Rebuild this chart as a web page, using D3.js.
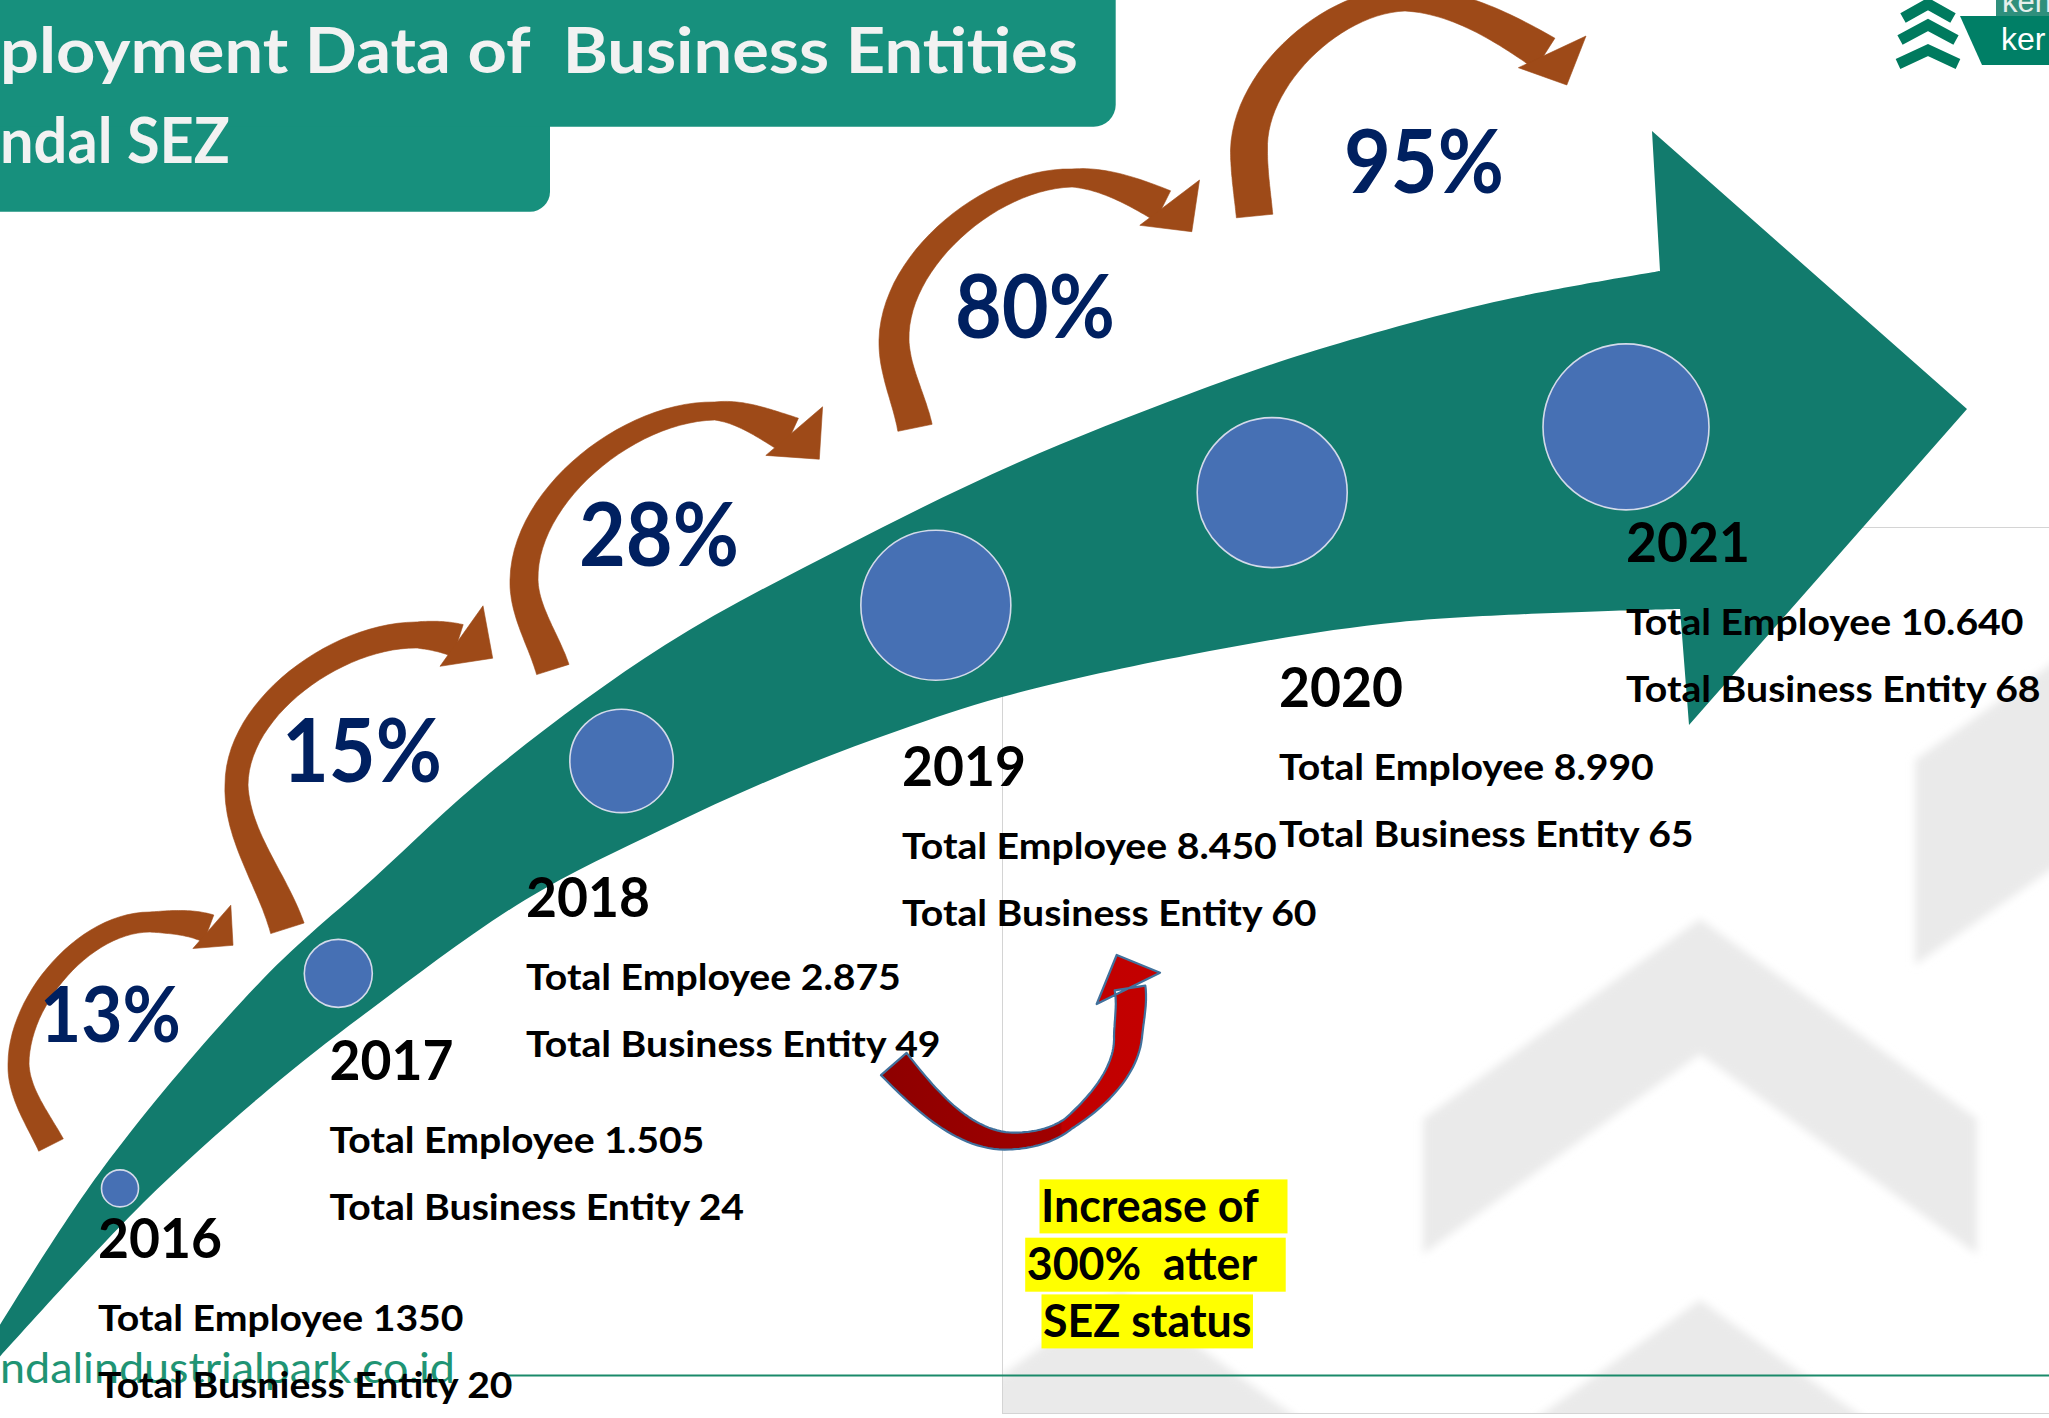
<!DOCTYPE html>
<html>
<head>
<meta charset="utf-8">
<title>Employment Data of Business Entities - Kendal SEZ</title>
<script src="https://cdn.jsdelivr.net/npm/d3@7/dist/d3.min.js"></script>
<style>
html,body{margin:0;padding:0;background:#ffffff;overflow:hidden;}
svg{display:block;}
text{white-space:pre;}
</style>
</head>
<body>
<svg id="chart" width="2049" height="1418" viewBox="0 0 2049 1418"></svg>
<script>
// ---------------- DATA ----------------
const years = [2016, 2017, 2018, 2019, 2020, 2021];
const totalEmployees = [1350, 1505, 2875, 8450, 8990, 10640];
const employeeLabels = ["1350", "1.505", "2.875", "8.450", "8.990", "10.640"];
const totalBusinessEntities = [20, 24, 49, 60, 65, 68];
const entityCaptions = ["Total Busniess Entity", "Total Business Entity", "Total Business Entity",
                        "Total Business Entity", "Total Business Entity", "Total Business Entity"];
const growthPercent = [13, 15, 28, 80, 95];
const titleLines = ["ployment Data of  Business Entities", "ndal SEZ"];
const calloutLines = ["Increase of", "300%  atter", "SEZ status"];
const footerText = "ndalindustrialpark.co.id";
const logoTexts = ["ken", "ker"];

// ---------------- LAYOUT (presentation only) ----------------
const W = 2049, H = 1418;
const FONT = "Lato, 'Open Sans', 'DejaVu Sans', sans-serif";
const C = {
  teal: "#17907D", band: "#127B6D", circle: "#4670B4", circleStroke: "#D3DAEA",
  navy: "#002060", brown: "#9E4A18", grey: "#EAEAEA", title: "#F2F2F2"
};
const BAND = {
  upper: [[-5,1333],[103,1168],[262,980],[374,878],[491,772],[665,645],[844,547],[1017,463],[1189,394],[1307,353],[1494,302],[1660,271]],
  head: [[1652,131],[1967,409],[1689,725]],
  lower: [[-5,1362],[143,1203],[268,1090],[370,1010],[525,900],[665,828],[789,772],[900,730],[1002,697],[1189,655],[1400,622],[1680,609]]
};
const CIRCLE_R = [18.5, 34, 51.7, 75, 75, 83];
const LABEL_ANCHOR = [[98,1257.5],[329.5,1080],[526,917],[902,786],[1279,707],[1626,562]];
const LINE_DY = [73, 140];
const PCT_ANCHOR = [[40,1042],[282,782],[579,566],[955,337.6],[1344,193]];
const PCT_SIZE = [0.88, 1, 1, 1, 1];
// brown curved arrows: key points (tail, leftmost, top, head junction) + head triangle
const BROWN = [
  {keys:[{p:[51,1145],d:[-0.45,-0.89],w:27.5},{p:[18.5,1064],d:[0,-1],w:21},{p:[150,922],d:[1,0],w:20},{p:[208.7,928.6],d:[0.936,0.352],w:29}],
   head:[[230.8,905.2],[233,945.3],[192.9,948.5]]},
  {keys:[{p:[287.4,928.3],d:[-0.3,-0.95],w:35},{p:[236.5,785],d:[0,-1],w:23},{p:[416,635],d:[1,0],w:26},{p:[458,640.8],d:[0.952,0.304],w:34}],
   head:[[483,605.8],[492.7,658.2],[440,666.3]]},
  {keys:[{p:[552.8,669.5],d:[-0.3,-0.95],w:34},{p:[524,580],d:[0,-1],w:28},{p:[714.7,411],d:[1,0],w:18},{p:[790.5,435.5],d:[0.908,0.418],w:38}],
   head:[[822.6,406.8],[819.3,459.2],[765.8,455.4]]},
  {keys:[{p:[915,427.8],d:[-0.2,-0.98],w:35},{p:[894,340],d:[0,-1],w:30},{p:[1072,178],d:[1,0],w:18},{p:[1163,206],d:[0.896,0.445],w:34}],
   head:[[1199.5,180],[1191.8,231.7],[1139.8,225.3]]},
  {keys:[{p:[1254.6,216],d:[-0.1,-1],w:36.5},{p:[1249,150],d:[0,-1],w:37},{p:[1405,0],d:[1,0],w:22},{p:[1545,53.7],d:[0.844,0.536],w:36.8}],
   head:[[1586,36],[1566.8,85],[1518.4,67.7]]}
];
const RED = {
  keys:[{p:[893.8,1064],d:[0.66,0.75],w:34},{p:[1010,1141],d:[1,0],w:17},{p:[1068,1124],d:[0.8,-0.6],w:12},
        {p:[1128,1037],d:[0.05,-1],w:28},{p:[1130,988],d:[-0.15,-0.99],w:31}],
  head:[[1096.7,1004],[1116.7,955],[1160,972.7]]
};
const CALLOUT = {x:[1041,1026.7,1043], y:[1221.7,1280,1336.7], pad:[27,27,0]};
const BOX = {x:1002.5, y:527.5, x2:2060, y2:1413.5};

// ---------------- HELPERS ----------------
const svg = d3.select("#chart");
const defs = svg.append("defs");

function measure(str, size, weight) {
  const t = svg.append("text").style("font-family", FONT).style("font-size", size + "px")
    .style("font-weight", weight).text(str);
  const w = t.node().getComputedTextLength();
  t.remove();
  return w;
}
function fitK(sample, size, weight, target) { return target / measure(sample, size, weight); }
function addText(g, str, x, y, size, weight, fill, k) {
  return g.append("text")
    .attr("transform", `translate(${x},${y}) scale(${k},1)`)
    .style("font-family", FONT).style("font-size", size + "px").style("font-weight", weight)
    .attr("fill", fill).text(str);
}
function norm(v) { const l = Math.hypot(v[0], v[1]) || 1; return [v[0] / l, v[1] / l]; }
function ribbonPath(keys, N) {
  N = N || 28;
  const left = [], right = [];
  for (let i = 0; i < keys.length - 1; i++) {
    const a = keys[i], b = keys[i + 1];
    const ad = norm(a.d), bd = norm(b.d);
    const c = Math.hypot(b.p[0] - a.p[0], b.p[1] - a.p[1]);
    for (let j = (i === 0 ? 0 : 1); j <= N; j++) {
      const t = j / N, t2 = t * t, t3 = t2 * t;
      const h00 = 2*t3 - 3*t2 + 1, h10 = t3 - 2*t2 + t, h01 = -2*t3 + 3*t2, h11 = t3 - t2;
      const g00 = 6*t2 - 6*t, g10 = 3*t2 - 4*t + 1, g01 = -6*t2 + 6*t, g11 = 3*t2 - 2*t;
      const x = h00*a.p[0] + h10*c*ad[0] + h01*b.p[0] + h11*c*bd[0];
      const y = h00*a.p[1] + h10*c*ad[1] + h01*b.p[1] + h11*c*bd[1];
      let dx = g00*a.p[0] + g10*c*ad[0] + g01*b.p[0] + g11*c*bd[0];
      let dy = g00*a.p[1] + g10*c*ad[1] + g01*b.p[1] + g11*c*bd[1];
      const l = Math.hypot(dx, dy) || 1; dx /= l; dy /= l;
      const hw = (a.w + (b.w - a.w) * t) / 2;
      left.push([x - dy * hw, y + dx * hw]);
      right.push([x + dy * hw, y - dx * hw]);
    }
  }
  const pts = left.concat(right.reverse());
  return "M" + pts.map(p => p[0].toFixed(1) + "," + p[1].toFixed(1)).join("L") + "Z";
}
const poly = pts => "M" + pts.map(p => p.join(",")).join("L") + "Z";

// ---------------- BACKGROUND ----------------
svg.append("rect").attr("width", W).attr("height", H).attr("fill", "#ffffff");

defs.append("clipPath").attr("id", "boxClip").append("rect")
  .attr("x", BOX.x).attr("y", BOX.y).attr("width", BOX.x2 - BOX.x).attr("height", BOX.y2 - BOX.y);
const blur = defs.append("filter").attr("id", "soft").attr("x", "-10%").attr("y", "-10%").attr("width", "120%").attr("height", "120%");
blur.append("feGaussianBlur").attr("stdDeviation", 4);

const wmOuter = svg.append("g").attr("clip-path", "url(#boxClip)");
const wm = wmOuter.append("g").attr("fill", C.grey).attr("filter", "url(#soft)");
const chevron = (ax, ay, half, drop, thick) =>
  poly([[ax - half, ay + drop], [ax, ay], [ax + half, ay + drop], [ax + half, ay + drop + thick], [ax, ay + thick], [ax - half, ay + drop + thick]]);
wm.append("path").attr("d", chevron(1700, 919, 277, 200, 135));
wm.append("path").attr("d", chevron(1700, 1300, 277, 200, 135));
wm.append("path").attr("d", chevron(2200, 560, 285, 200, 205));
wm.append("path").attr("d", chevron(1120, 1290, 277, 200, 135));

svg.append("rect").attr("x", BOX.x).attr("y", BOX.y).attr("width", BOX.x2 - BOX.x).attr("height", BOX.y2 - BOX.y)
  .attr("fill", "none").attr("stroke", "#D4D4D4").attr("stroke-width", 1);

// footer
svg.append("line").attr("x1", 505).attr("x2", W).attr("y1", 1375.5).attr("y2", 1375.5)
  .attr("stroke", "#1A8A6A").attr("stroke-width", 2);
const kFoot = fitK(footerText, 42, 400, 455);
addText(svg, footerText, 0, 1382.5, 42, 400, "#1F9474", kFoot);

// ---------------- BAND (growth arrow) ----------------
const edgeLine = d3.line().curve(d3.curveCatmullRom.alpha(0.5));
const upperD = edgeLine(BAND.upper);
const lowerRevD = edgeLine(BAND.lower.slice().reverse());
const bandD = upperD + "L" + BAND.head.map(p => p.join(",")).join("L") + "L" + lowerRevD.slice(1) + "Z";
svg.append("path").attr("d", bandD).attr("fill", C.band);

const upperNode = svg.append("path").attr("d", upperD).attr("fill", "none").attr("stroke", "none").node();
const lowerNode = svg.append("path").attr("d", edgeLine(BAND.lower)).attr("fill", "none").attr("stroke", "none").node();
function yAtX(node, x) {
  let lo = 0, hi = node.getTotalLength();
  for (let i = 0; i < 40; i++) {
    const mid = (lo + hi) / 2;
    if (node.getPointAtLength(mid).x < x) lo = mid; else hi = mid;
  }
  return node.getPointAtLength((lo + hi) / 2).y;
}

// ---------------- SCALES ----------------
const idx = d3.range(years.length);
const xScale = d3.scalePow().exponent(1.2).domain([0, years.length - 1]).range([120, 1626]);
const bandPos = d3.scaleLinear().domain([0, years.length - 1]).range([0.53, 0.45]); // position across band
const rScale = d3.scaleOrdinal().domain(years).range(CIRCLE_R);
const labelPos = d3.scaleOrdinal().domain(years).range(LABEL_ANCHOR);
const pctPos = d3.scaleOrdinal().domain(growthPercent).range(PCT_ANCHOR);

const points = idx.map(i => {
  const cx = xScale(i);
  const yu = yAtX(upperNode, cx), yl = yAtX(lowerNode, cx);
  const cy = yu + (yl - yu) * bandPos(i);
  return {year: years[i], cx, cy, r: rScale(years[i]), emp: employeeLabels[i], ent: totalBusinessEntities[i], cap: entityCaptions[i]};
});

svg.append("g").selectAll("circle").data(points).join("circle")
  .attr("cx", d => d.cx).attr("cy", d => d.cy).attr("r", d => d.r)
  .attr("fill", C.circle).attr("stroke", C.circleStroke).attr("stroke-width", 1.6);

// ---------------- BROWN GROWTH ARROWS ----------------
const brownG = svg.append("g").attr("fill", C.brown).attr("stroke", C.brown).attr("stroke-width", 0.6);
BROWN.forEach(a => {
  brownG.append("path").attr("d", ribbonPath(a.keys));
  brownG.append("path").attr("d", poly(a.head));
});

// percentages
const pctSize = 88;
const kPct = fitK("15%", pctSize, 700, 160);
const pctG = svg.append("g");
growthPercent.forEach((v, i) => {
  const p = pctPos(v);
  addText(pctG, v + "%", p[0], p[1], pctSize * PCT_SIZE[i], 700, C.navy, kPct);
});

// ---------------- YEAR LABELS ----------------
const yearSize = 54.5, infoSize = 37;
const kYear = fitK("2017", yearSize, 700, 124);
const kInfo = fitK("Total Employee 1.505", infoSize, 700, 375);
const labG = svg.append("g");
points.forEach(d => {
  const a = labelPos(d.year);
  addText(labG, String(d.year), a[0], a[1], yearSize, 700, "#000", kYear);
  addText(labG, "Total Employee " + d.emp, a[0], a[1] + LINE_DY[0], infoSize, 700, "#000", kInfo);
  addText(labG, d.cap + " " + d.ent, a[0], a[1] + LINE_DY[1], infoSize, 700, "#000", kInfo);
});

// ---------------- RED ARROW ----------------
const grad = defs.append("linearGradient").attr("id", "redGrad").attr("gradientUnits", "userSpaceOnUse")
  .attr("x1", 880).attr("x2", 1165).attr("y1", 0).attr("y2", 0);
grad.append("stop").attr("offset", 0).attr("stop-color", "#8E0000");
grad.append("stop").attr("offset", 0.63).attr("stop-color", "#A00000");
grad.append("stop").attr("offset", 0.64).attr("stop-color", "#C00000");
grad.append("stop").attr("offset", 1).attr("stop-color", "#C40000");
const redG = svg.append("g").attr("fill", "url(#redGrad)").attr("stroke", "#41719C").attr("stroke-width", 2.2).attr("stroke-linejoin", "round");
redG.append("path").attr("d", ribbonPath(RED.keys) + poly(RED.head));

// ---------------- CALLOUT ----------------
const calSize = 46;
const kCal = fitK("Increase of", calSize, 700, 218);
const calG = svg.append("g");
calloutLines.forEach((s, i) => {
  const w = measure(s, calSize, 700) * kCal;
  calG.append("rect").attr("x", CALLOUT.x[i] - 1.5).attr("y", CALLOUT.y[i] - 42.3)
    .attr("width", w + 3 + CALLOUT.pad[i]).attr("height", 54).attr("fill", "#FFFF00");
});
calloutLines.forEach((s, i) => addText(calG, s, CALLOUT.x[i], CALLOUT.y[i], calSize, 700, "#000", kCal));

// ---------------- TITLE ----------------
svg.append("rect").attr("x", -40).attr("y", -40).attr("width", 550 + 40).attr("height", 211.7 + 40).attr("rx", 20).attr("fill", C.teal);
svg.append("rect").attr("x", -40).attr("y", -40).attr("width", 1115.7 + 40).attr("height", 126.7 + 40).attr("rx", 22).attr("fill", C.teal);
const titleSize = 63.5;
const kTitle1 = fitK(titleLines[0], titleSize, 700, 1078);
const kTitle2 = fitK(titleLines[1], titleSize, 700, 230);
addText(svg, titleLines[0], 0, 72.7, titleSize, 700, C.title, kTitle1);
addText(svg, titleLines[1], 0, 163.3, titleSize, 700, C.title, kTitle2);

// ---------------- LOGO ----------------
const logo = svg.append("g");
logo.append("path").attr("d", poly([[1960,16],[2060,16],[2060,65],[1982,65]])).attr("fill", "#007F66");
logo.append("rect").attr("x", 1996).attr("y", 0).attr("width", 60).attr("height", 16).attr("fill", "#2F8F7C");
const chevG = logo.append("g").attr("fill", "none").attr("stroke", "#007A5E").attr("stroke-width", 11).attr("stroke-linejoin", "miter");
[[1928,4,25,14],[1928,25,28,15],[1928,50,30,14]].forEach(c => {
  chevG.append("path").attr("d", `M${c[0]-c[2]},${c[1]+c[3]}L${c[0]},${c[1]}L${c[0]+c[2]},${c[1]+c[3]}`);
});
logo.append("text").attr("x", 2002).attr("y", 12).style("font-family", "'Liberation Sans', Arial, sans-serif")
  .style("font-size", "31px").attr("fill", "#E6EFEC").text(logoTexts[0]);
logo.append("text").attr("x", 2001).attr("y", 50).style("font-family", "'Liberation Sans', Arial, sans-serif")
  .style("font-size", "32px").attr("fill", "#FFFFFF").text(logoTexts[1]);
</script>
</body>
</html>
